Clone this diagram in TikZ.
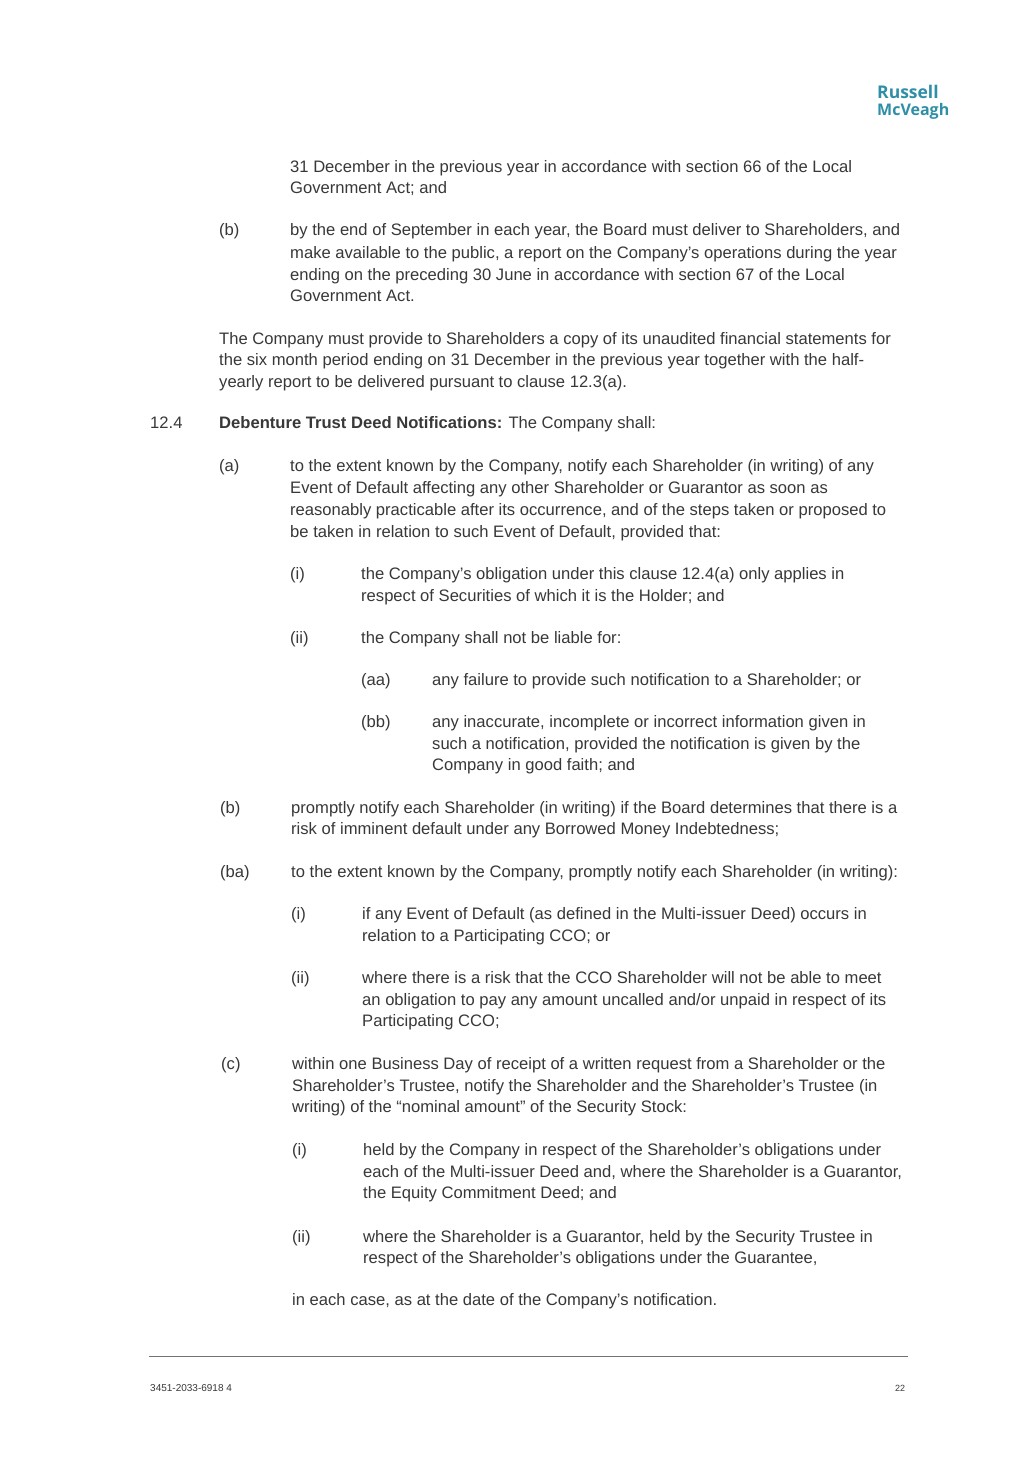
\documentclass[tikz,border=0pt]{standalone}
\usepackage{fontspec}
\setmainfont{Liberation Sans}
\newfontfamily\logofont{Open Sans}
\usepackage{xcolor}
\usepackage{tikz}
\definecolor{logoteal}{HTML}{2F8FA6}
\definecolor{bodygrey}{gray}{0.22}
\tikzset{
  bodyline/.style={anchor=base west,inner sep=0,text=bodygrey,font=\fontsize{16.6}{21}\selectfont},
  footline/.style={anchor=base west,inner sep=0,text=bodygrey,font=\fontsize{10}{10}\selectfont},
  pageno/.style={anchor=base west,inner sep=0,text=bodygrey,font=\fontsize{9}{10}\selectfont},
  logoline/.style={anchor=base west,inner sep=0,text=logoteal,font=\logofont\bfseries\fontsize{#1}{18}\selectfont}
}
\begin{document}
\begin{tikzpicture}[x=1pt,y=-1pt]
  \useasboundingbox (0,0) rectangle (1035,1465);
  \fill[white] (0,0) rectangle (1035,1465);

  % logo
  \node[logoline=17.5] (logoa) at (877,98) {Russell};
  \node[logoline=16] (logob) at (877,115) {McVeagh};

  % top of page
  \node[bodyline] (t1) at (290,172) {31 December in the previous year in accordance with section 66 of the Local};
  \node[bodyline] (t2) at (290,193) {Government Act; and};

  \node[bodyline] (b0) at (219,235) {(b)};
  \node[bodyline] (b1) at (290,235) {by the end of September in each year, the Board must deliver to Shareholders, and};
  \node[bodyline] (b2) at (290,258) {make available to the public, a report on the Company's operations during the year};
  \node[bodyline] (b3) at (290,280) {ending on the preceding 30 June in accordance with section 67 of the Local};
  \node[bodyline] (b4) at (290,301) {Government Act.};

  \node[bodyline] (p1) at (219,344) {The Company must provide to Shareholders a copy of its unaudited financial statements for};
  \node[bodyline] (p2) at (219,365) {the six month period ending on 31 December in the previous year together with the half-};
  \node[bodyline] (p3) at (219,387) {yearly report to be delivered pursuant to clause 12.3(a).};

  % clause 12.4
  \node[bodyline] (c0) at (150,428) {12.4};
  \node[bodyline] (c1) at (219,428) {\textbf{Debenture Trust Deed Notifications:} The Company shall:};

  \node[bodyline] (a0) at (219,471) {(a)};
  \node[bodyline] (a1) at (290,471) {to the extent known by the Company, notify each Shareholder (in writing) of any};
  \node[bodyline] (a2) at (290,493) {Event of Default affecting any other Shareholder or Guarantor as soon as};
  \node[bodyline] (a3) at (290,515) {reasonably practicable after its occurrence, and of the steps taken or proposed to};
  \node[bodyline] (a4) at (290,537) {be taken in relation to such Event of Default, provided that:};

  \node[bodyline] (ai0) at (290,579) {(i)};
  \node[bodyline] (ai1) at (361,579) {the Company's obligation under this clause 12.4(a) only applies in};
  \node[bodyline] (ai2) at (361,601) {respect of Securities of which it is the Holder; and};

  \node[bodyline] (aii0) at (290,643) {(ii)};
  \node[bodyline] (aii1) at (361,643) {the Company shall not be liable for:};

  \node[bodyline] (aa0) at (361,685) {(aa)};
  \node[bodyline] (aa1) at (432,685) {any failure to provide such notification to a Shareholder; or};

  \node[bodyline] (bb0) at (361,727) {(bb)};
  \node[bodyline] (bb1) at (432,727) {any inaccurate, incomplete or incorrect information given in};
  \node[bodyline] (bb2) at (432,749) {such a notification, provided the notification is given by the};
  \node[bodyline] (bb3) at (432,770) {Company in good faith; and};

  \node[bodyline] (d0) at (220,813) {(b)};
  \node[bodyline] (d1) at (291,813) {promptly notify each Shareholder (in writing) if the Board determines that there is a};
  \node[bodyline] (d2) at (291,834) {risk of imminent default under any Borrowed Money Indebtedness;};

  \node[bodyline] (e0) at (220,877) {(ba)};
  \node[bodyline] (e1) at (291,877) {to the extent known by the Company, promptly notify each Shareholder (in writing):};

  \node[bodyline] (ei0) at (291,919) {(i)};
  \node[bodyline] (ei1) at (362,919) {if any Event of Default (as defined in the Multi-issuer Deed) occurs in};
  \node[bodyline] (ei2) at (362,941) {relation to a Participating CCO; or};

  \node[bodyline] (eii0) at (291,983) {(ii)};
  \node[bodyline] (eii1) at (362,983) {where there is a risk that the CCO Shareholder will not be able to meet};
  \node[bodyline] (eii2) at (362,1005) {an obligation to pay any amount uncalled and/or unpaid in respect of its};
  \node[bodyline] (eii3) at (362,1026) {Participating CCO;};

  \node[bodyline] (f0) at (221,1069) {(c)};
  \node[bodyline] (f1) at (292,1069) {within one Business Day of receipt of a written request from a Shareholder or the};
  \node[bodyline] (f2) at (292,1091) {Shareholder's Trustee, notify the Shareholder and the Shareholder's Trustee (in};
  \node[bodyline] (f3) at (292,1112) {writing) of the ``nominal amount'' of the Security Stock:};

  \node[bodyline] (fi0) at (292,1155) {(i)};
  \node[bodyline] (fi1) at (363,1155) {held by the Company in respect of the Shareholder's obligations under};
  \node[bodyline] (fi2) at (363,1177) {each of the Multi-issuer Deed and, where the Shareholder is a Guarantor,};
  \node[bodyline] (fi3) at (363,1198) {the Equity Commitment Deed; and};

  \node[bodyline] (fii0) at (292,1242) {(ii)};
  \node[bodyline] (fii1) at (363,1242) {where the Shareholder is a Guarantor, held by the Security Trustee in};
  \node[bodyline] (fii2) at (363,1263) {respect of the Shareholder's obligations under the Guarantee,};

  \node[bodyline] (g1) at (292,1305) {in each case, as at the date of the Company's notification.};

  % footer
  \draw[black!55,line width=1.4pt] (149,1356.5) -- (908,1356.5);
  \node[footline] (fa) at (150,1391) {3451-2033-6918 4};
  \node[pageno] (fb) at (895,1391) {22};
\end{tikzpicture}
\end{document}
